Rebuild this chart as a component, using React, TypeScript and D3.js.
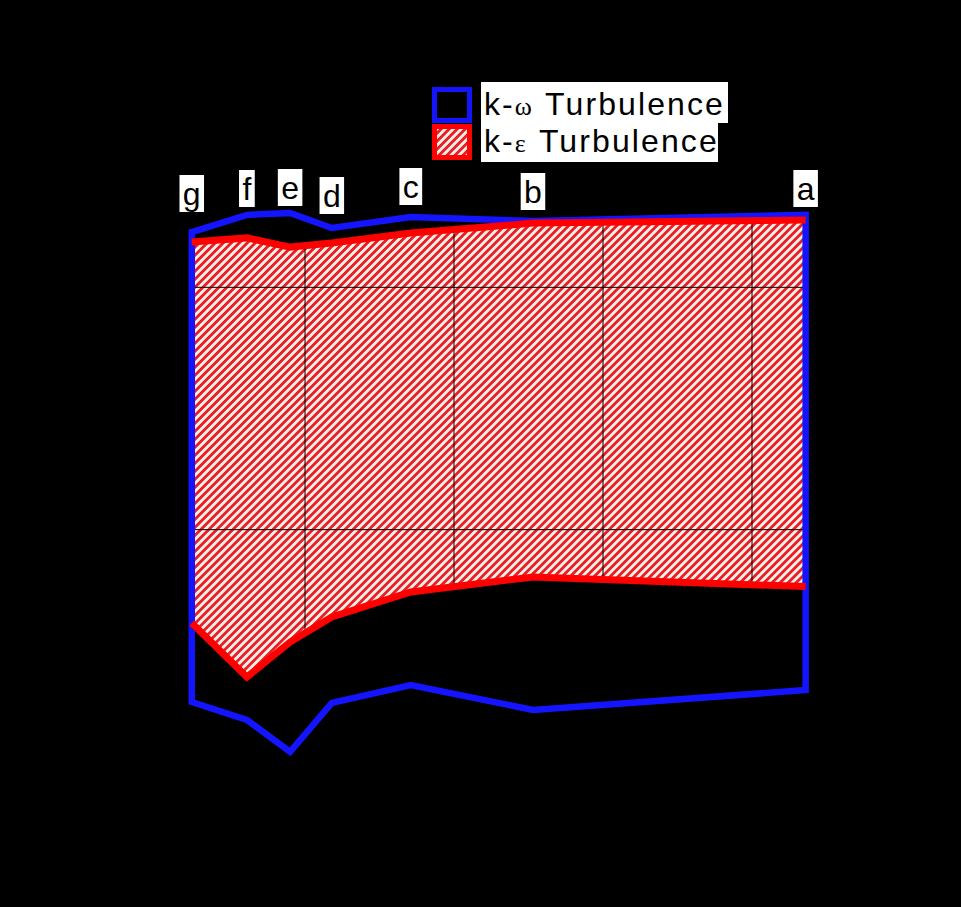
import React from "react";
import * as d3 from "d3";

// ---- data ----
const meshLabels = ["g", "f", "e", "d", "c", "b", "a"];
const meshCells = [2.4e6, 6.1e6, 9.0e6, 11.8e6, 17.1e6, 25.3e6, 43.6e6];
const kwUpper = [0.009228, 0.009299, 0.009307, 0.009245, 0.00929, 0.009274, 0.009299];
const kwLower = [0.007289, 0.007215, 0.007083, 0.007285, 0.007359, 0.007256, 0.007338];
const keUpper = [0.009187, 0.009204, 0.009166, 0.009183, 0.009224, 0.009265, 0.009278];
const keLower = [0.007615, 0.007392, 0.007536, 0.00764, 0.007743, 0.007805, 0.007765];
const xTicks = [0, 1e7, 2e7, 3e7, 4e7, 5e7];
const yTicks = [0.007, 0.008, 0.009, 0.01];
const seriesNames = ["k-\u03c9 Turbulence", "k-\u03b5 Turbulence"];

// ---- layout ----
const W = 961;
const H = 907;
const X0 = 156, X1 = 901;
const Y0 = 772, Y1 = 45;
const labelBaseline = [205, 200, 199, 207, 198, 203, 200];
const glyphW: Record<string, number> = { a: 16.7, b: 16.7, c: 15, d: 16.7, e: 16.7, f: 8.3, g: 16.7 };

export default function App() {
  const x = d3.scaleLinear().domain([0, 5e7]).range([X0, X1]);
  const y = d3.scaleLinear().domain([0.007, 0.01]).range([Y0, Y1]);
  const idx = meshCells.map((_, i) => i);

  const area = d3
    .area<number>()
    .x((i) => x(meshCells[i]))
    .y0((i) => y(keLower[i]))
    .y1((i) => y(keUpper[i]));
  const lineU = d3.line<number>().x((i) => x(meshCells[i])).y((i) => y(keUpper[i]));
  const lineL = d3.line<number>().x((i) => x(meshCells[i])).y((i) => y(keLower[i]));
  const bluePts: [number, number][] = [
    ...idx.map((i) => [x(meshCells[i]), y(kwUpper[i])] as [number, number]),
    ...idx
      .slice()
      .reverse()
      .map((i) => [x(meshCells[i]), y(kwLower[i])] as [number, number]),
  ];
  const bluePath = d3.line()(bluePts) + "Z";

  const fmtY = d3.format(".3f");

  return (
    <svg
      width={W}
      height={H}
      style={{ position: "absolute", left: 0, top: 0, display: "block" }}
    >
      <defs>
        <pattern
          id="hatch"
          patternUnits="userSpaceOnUse"
          width={5.66}
          height={10}
          patternTransform="rotate(45)"
        >
          <rect width={5.66} height={10} fill="#fff0e4" />
          <rect width={2.8} height={10} fill="#e81c28" />
        </pattern>
      </defs>
      <rect width={W} height={H} fill="#000" />

      {/* red filled band */}
      <path d={area(idx) || ""} fill="url(#hatch)" stroke="none" />

      {/* grid */}
      {xTicks.slice(1, -1).map((t) => (
        <line key={"gx" + t} x1={x(t)} x2={x(t)} y1={Y1} y2={Y0} stroke="#000" strokeWidth={1} />
      ))}
      {yTicks.slice(1, -1).map((t) => (
        <line key={"gy" + t} x1={X0} x2={X1} y1={y(t)} y2={y(t)} stroke="#000" strokeWidth={1} />
      ))}

      {/* blue band */}
      <path d={bluePath} fill="none" stroke="#1414ff" strokeWidth={6.5} strokeLinejoin="miter" />

      {/* red edges */}
      <path d={lineU(idx) || ""} fill="none" stroke="#ff0000" strokeWidth={7} />
      <path d={lineL(idx) || ""} fill="none" stroke="#ff0000" strokeWidth={7} />

      {/* axes (black) */}
      <line x1={X0} x2={X1} y1={Y0} y2={Y0} stroke="#000" />
      <line x1={X0} x2={X0} y1={Y0} y2={Y1} stroke="#000" />
      {yTicks.map((t) => (
        <text
          key={"yt" + t}
          x={142}
          y={y(t) + 9}
          textAnchor="end"
          fontFamily="Liberation Serif, serif"
          fontSize={26}
          fill="#000"
        >
          {fmtY(t)}
        </text>
      ))}
      {xTicks.map((t) =>
        t === 0 ? (
          <text key="xt0" x={x(t) + 3} y={812} textAnchor="middle" fontFamily="Liberation Serif, serif" fontSize={26} fill="#000">
            0
          </text>
        ) : (
          <text key={"xt" + t} x={x(t) + 3} y={833} textAnchor="middle" fontFamily="Liberation Serif, serif" fontSize={26} fill="#000">
            {`${t / 1e7}x10`}
            <tspan dy={-14} fontSize={17}>7</tspan>
          </text>
        )
      )}
      <text x={505} y={872} textAnchor="middle" fontFamily="Liberation Serif, serif" fontSize={28} fill="#000">
        Number of Final Mesh Cells
      </text>
      <text
        transform="translate(58,405) rotate(-90)"
        textAnchor="middle"
        fontFamily="Liberation Serif, serif"
        fontSize={28}
        fill="#000"
      >
        Normalised Total Pressure Drop Coefficient (-)
      </text>

      {/* mesh labels */}
      {meshLabels.map((l, i) => {
        const cx = x(meshCells[i]);
        const bw = glyphW[l] * 1.05 + 7;
        const by = labelBaseline[i];
        return (
          <g key={"lab" + l}>
            <rect x={cx - bw / 2} y={by - 30} width={bw} height={37} fill="#fff" />
            <text x={cx} y={by} textAnchor="middle" fontFamily="Liberation Sans, Arial, sans-serif" fontSize={32} fill="#000">
              {l}
            </text>
          </g>
        );
      })}

      {/* legend */}
      <rect x={434.5} y={89.5} width={35} height={31} fill="#000" stroke="#1414ff" strokeWidth={5} />
      <rect x={434.5} y={126.5} width={35} height={31} fill="url(#hatch)" stroke="#ff0000" strokeWidth={5} />
      <rect x={481} y={82} width={247} height={41} fill="#fff" />
      <rect x={481} y={123} width={237} height={39} fill="#fff" />
      {seriesNames.map((name, i) => {
        const [pre, sym, post] = [name.slice(0, 2), name.slice(2, 3), name.slice(3)];
        return (
          <text
            key={name}
            x={484}
            y={115 + i * 37}
            fontFamily="Liberation Sans, Arial, sans-serif"
            fontSize={32}
            letterSpacing={2.1}
            fill="#000"
          >
            {pre}
            <tspan fontFamily="Liberation Serif, serif" fontSize={26}>{sym}</tspan>
            {post}
          </text>
        );
      })}
    </svg>
  );
}
